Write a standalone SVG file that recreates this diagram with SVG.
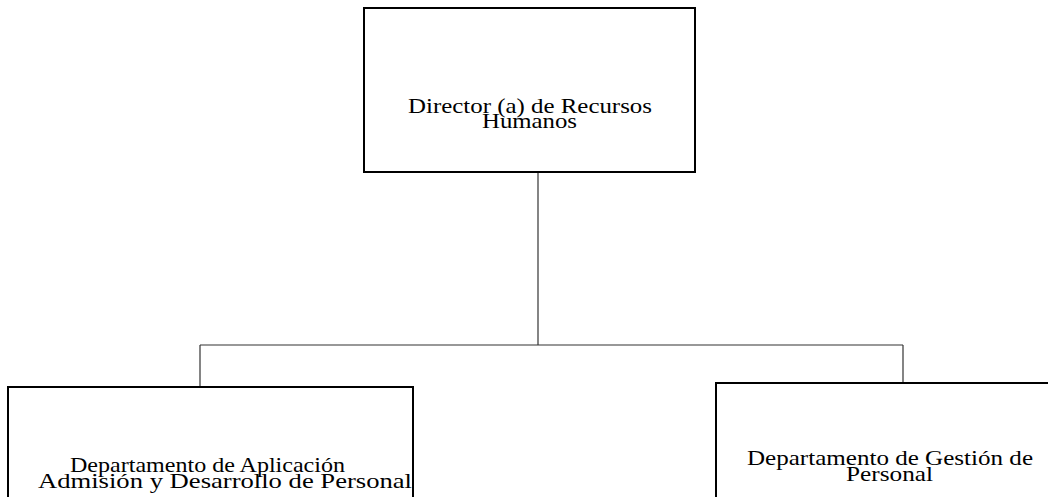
<svg xmlns="http://www.w3.org/2000/svg" width="1048" height="497" viewBox="0 0 1048 497">
<style>
.box{fill:#fff;stroke:#000;stroke-width:2}
.conn{fill:none;stroke:#333;stroke-width:1.2}
.lbl{font-family:"Liberation Serif","DejaVu Serif",serif;font-size:22px;fill:#000}
</style>
<rect x="0" y="0" width="1048" height="497" fill="#fff"/>
<g id="connectors">
<line class="conn" x1="538" y1="172" x2="538" y2="345"/>
<line class="conn" x1="200" y1="345" x2="903" y2="345"/>
<line class="conn" x1="200" y1="345" x2="200" y2="387"/>
<line class="conn" x1="903" y1="345" x2="903" y2="383"/>
</g>
<g id="director">
<rect class="box" x="364" y="8" width="331" height="164"/>
<text class="lbl" x="408" y="113" textLength="244" lengthAdjust="spacingAndGlyphs">Director (a) de Recursos</text>
<text class="lbl" x="482" y="128" textLength="95" lengthAdjust="spacingAndGlyphs">Humanos</text>
</g>
<g id="dept-admision">
<rect class="box" x="8" y="387" width="405" height="130"/>
<text class="lbl" x="70" y="472" textLength="275" lengthAdjust="spacingAndGlyphs">Departamento de Aplicación</text>
<text class="lbl" x="38" y="488" textLength="374" lengthAdjust="spacingAndGlyphs">Admisión y Desarrollo de Personal</text>
</g>
<g id="dept-gestion">
<rect class="box" x="716" y="383" width="400" height="130"/>
<text class="lbl" x="747" y="465" textLength="286" lengthAdjust="spacingAndGlyphs">Departamento de Gestión de</text>
<text class="lbl" x="846" y="481" textLength="87" lengthAdjust="spacingAndGlyphs">Personal</text>
</g>
</svg>
